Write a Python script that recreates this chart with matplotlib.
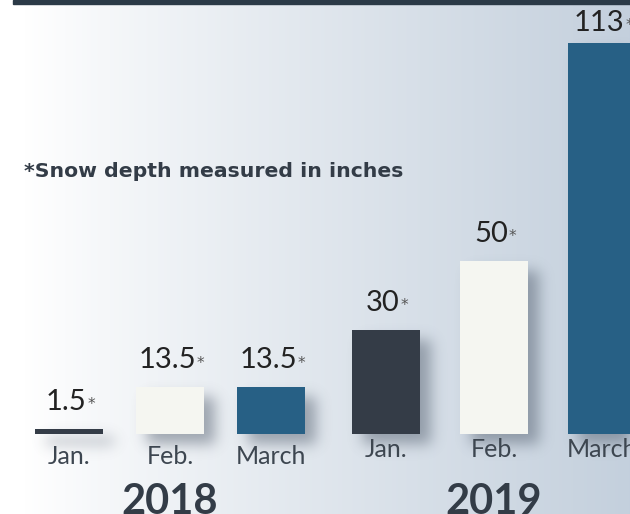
import numpy as np
import matplotlib
matplotlib.use("Agg")
import matplotlib.pyplot as plt
from matplotlib.patches import Rectangle

# ---------------- data ----------------
years = ["2018", "2019"]
months = ["Jan.", "Feb.", "March"]
depth_2018 = [1.5, 13.5, 13.5]
depth_2019 = [30, 50, 113]
labels_2018 = ["1.5", "13.5", "13.5"]
labels_2019 = ["30", "50", "113"]
bar_colors = ["#343c47", "#f5f6f1", "#276085"]
note = "*Snow depth measured in inches"

# ---------------- layout ----------------
W, H = 630, 514
FONT = ["Lato", "DejaVu Sans"]
fig = plt.figure(figsize=(W / 100, H / 100), dpi=100)
ax = fig.add_axes([0, 0, 1, 1])
base_px = 80          # baseline height (px from bottom)
scale = 3.46          # px per inch of snow
ylo, yhi = -base_px / scale, (H - base_px) / scale
ax.set_xlim(0, W)
ax.set_ylim(ylo, yhi)
ax.axis("off")

group_start = [69, 386]
group_step = [101, 108]
bar_w = 68
label_off = [-16, -11]

# background gradient
xs = np.linspace(0, 1, W)
f = np.clip((xs - 0.04) / 0.96, 0, 1) ** 0.9
c0 = np.array([255, 255, 255]) / 255
c1 = np.array([196, 208, 221]) / 255
row = c0[None, :] * (1 - f[:, None]) + c1[None, :] * f[:, None]
grad = np.repeat(row[None, :, :], H, axis=0)
ax.imshow(grad, extent=(0, W, ylo, yhi), aspect="auto", zorder=0, origin="upper")

# top dark line
fig.add_artist(Rectangle((13 / W, 1 - 3.5 / H), 1, 3.5 / H, transform=fig.transFigure,
                         color="#2b3a47", zorder=5))

# bars
series = [(depth_2018, labels_2018), (depth_2019, labels_2019)]
bar_rects = []
positions = []
for g, (vals, labs) in enumerate(series):
    pos = [group_start[g] + i * group_step[g] for i in range(len(vals))]
    positions.append(pos)
    bars = ax.bar(pos, vals, width=bar_w, color=bar_colors, zorder=3)
    bar_rects.extend(bars)

# shadows (blurred, computed from the bars' display extents)
fig.canvas.draw()
mask = np.zeros((H, W))
dx, dy = 11, 10
for b in bar_rects:
    bb = b.get_window_extent()
    x0, x1 = int(bb.x0 + dx), int(bb.x1 + dx)
    r0, r1 = int(H - bb.y1 + dy), int(H - bb.y0 + dy)
    mask[max(r0, 0):min(r1, H), max(x0, 0):min(x1, W)] = 1.0
sig = 7
k = np.arange(-3 * sig, 3 * sig + 1)
ker = np.exp(-k ** 2 / (2 * sig ** 2)); ker /= ker.sum()
mask = np.apply_along_axis(lambda r: np.convolve(r, ker, mode="same"), 1, mask)
mask = np.apply_along_axis(lambda c: np.convolve(c, ker, mode="same"), 0, mask)
shadow = np.zeros((H, W, 4))
shadow[..., :3] = np.array([80, 92, 108]) / 255
shadow[..., 3] = mask * 0.5
ax.imshow(shadow, extent=(0, W, ylo, yhi), aspect="auto", zorder=2, origin="upper")

# value labels, month labels, year labels
value_texts = []
for g, (vals, labs) in enumerate(series):
    for x, v, lab, m in zip(positions[g], vals, labs, months):
        t = ax.annotate(lab, (x - 3, v), xytext=(0, 10), textcoords="offset points",
                        ha="center", va="bottom", fontsize=21, color="#222222",
                        family=FONT, zorder=6)
        value_texts.append(t)
        ax.annotate(m, (x, 0), xytext=(0, label_off[g]), textcoords="offset points",
                    ha="center", va="center", fontsize=18, color="#3d4650",
                    family=FONT, zorder=6)
    ax.annotate(years[g], (positions[g][1], 0), xytext=(0, -49), textcoords="offset points",
                ha="center", va="center", fontsize=30, fontweight="bold", color="#333c47",
                family=FONT, zorder=6)

ax.text(24 / W, 1 - 172 / H, note, transform=ax.transAxes, ha="left", va="center",
        fontsize=14.7, fontweight="bold", color="#333c47", family=["DejaVu Sans"], zorder=6)

# keep value labels inside the figure, then add a small asterisk after each
fig.canvas.draw()
r = fig.canvas.get_renderer()
for t in value_texts:
    bb = t.get_window_extent(r)
    if bb.y1 > H - 10:
        shift_pt = (bb.y1 - (H - 10)) * 72 / 100
        t.xyann = (t.xyann[0], t.xyann[1] - shift_pt)
fig.canvas.draw()
for t in value_texts:
    bb = t.get_window_extent(r)
    fig.text((bb.x1 + 1) / W, (bb.y0 + bb.height * 0.40) / H, "*", fontsize=11,
             color="#555555", ha="left", va="center", family=["DejaVu Sans"], zorder=7)

fig.savefig("out.png", dpi=100)
